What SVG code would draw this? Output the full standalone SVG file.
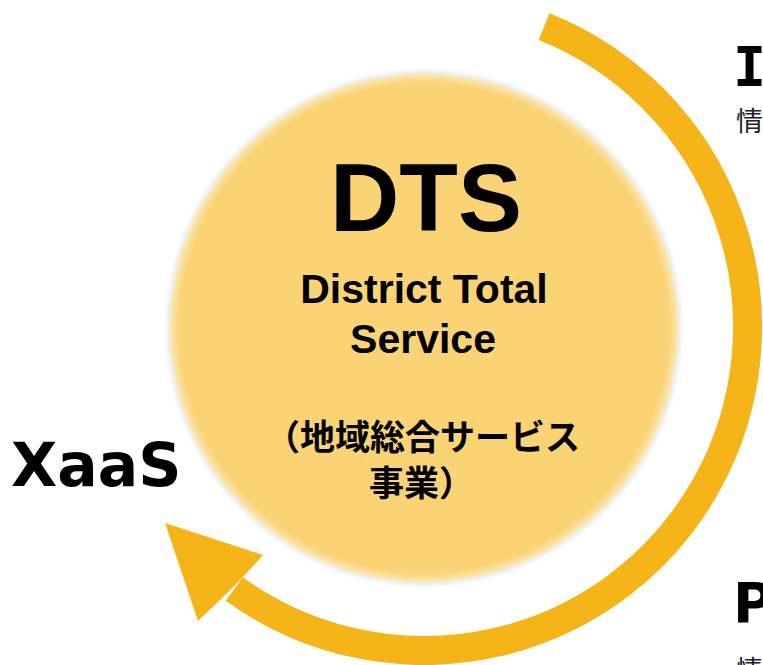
<svg xmlns="http://www.w3.org/2000/svg" width="763" height="665" viewBox="0 0 763 665">
  <style>
    .b { font-family: "Liberation Sans", Arial, sans-serif; font-weight: bold; fill: #000; }
    .v { font-family: "DejaVu Sans", Verdana, sans-serif; font-weight: bold; fill: #000; }
    .jp { font-family: "Noto Sans CJK JP", "Noto Sans CJK SC", sans-serif; font-weight: bold; fill: #000; }
    .jr { font-family: "Noto Sans CJK JP", "Noto Sans CJK SC", sans-serif; font-weight: normal; fill: #222; }
  </style>
  <defs>
    <radialGradient id="glow" cx="424" cy="328" r="260" gradientUnits="userSpaceOnUse">
      <stop offset="0" stop-color="#F9D374"/>
      <stop offset="0.94" stop-color="#F9D374"/>
      <stop offset="0.972" stop-color="#FBE5AE"/>
      <stop offset="0.988" stop-color="#EEF5FC"/>
      <stop offset="1" stop-color="#FFFFFF"/>
    </radialGradient>
  </defs>
  <rect width="763" height="665" fill="#FFFFFF"/>
  <g id="connectors">
    <path d="M 544.1 26.6 A 323.5 323.5 0 1 1 234.3 589.0" fill="none" stroke="#F5B418" stroke-width="29"/>
    <polygon points="243,577 263,555 165,523 198,621 221,599" fill="#F5B418"/>
  </g>
  <g id="dts">
    <circle cx="424" cy="328" r="260" fill="url(#glow)"/>
    <text class="b" x="426" y="231" font-size="96" text-anchor="middle">DTS</text>
    <text class="b" x="424" y="303" font-size="41" text-anchor="middle">District Total</text>
    <text class="b" x="423" y="353" font-size="41" text-anchor="middle">Service</text>
    <text class="jp" x="265" y="450" font-size="35">（地域総合サービス</text>
    <text class="jp" x="369" y="496" font-size="35">事業）</text>
  </g>
  <g id="xaas">
    <text class="v" x="11" y="486" font-size="60">XaaS</text>
  </g>
  <g id="iaas">
    <text x="733" y="86" font-size="55" font-family="DejaVu Sans Mono, monospace" font-weight="bold">I</text>
    <text class="jr" x="736" y="131" font-size="27">情</text>
  </g>
  <g id="paas">
    <text class="v" x="733" y="622" font-size="55">P</text>
    <text class="jr" x="736" y="680" font-size="27">情</text>
  </g>
</svg>
